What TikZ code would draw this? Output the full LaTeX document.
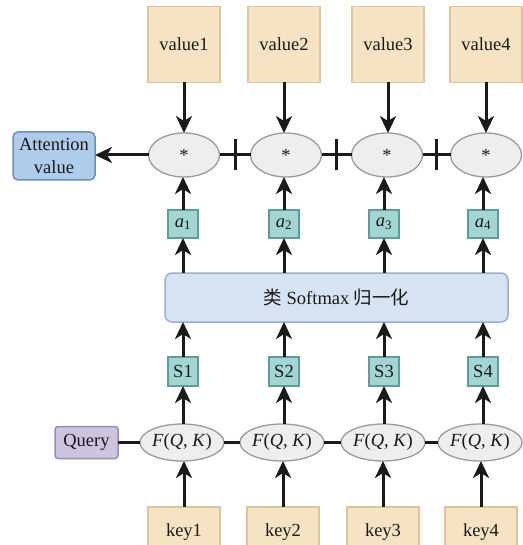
\documentclass[tikz,border=0pt]{standalone}
\usepackage{fontspec}
\setmainfont{Liberation Serif}
\newfontfamily\cjk{Noto Sans CJK SC}
\usetikzlibrary{arrows.meta,shapes.geometric}
\definecolor{beigeF}{HTML}{F6E3C3}
\definecolor{beigeD}{HTML}{DCC59C}
\definecolor{grayF}{HTML}{EEEEEE}
\definecolor{grayD}{HTML}{9A9A9A}
\definecolor{tealF}{HTML}{A3D5D3}
\definecolor{tealD}{HTML}{5F9C9A}
\definecolor{blueF}{HTML}{D7E2F3}
\definecolor{blueD}{HTML}{9DAFCF}
\definecolor{attF}{HTML}{AFCDEB}
\definecolor{attD}{HTML}{6F8FB3}
\definecolor{qF}{HTML}{CDC5E0}
\definecolor{qD}{HTML}{968DB5}
\definecolor{lineC}{HTML}{1A1A1A}
\newcommand{\fqk}{\textit{F}(\textit{Q}, \textit{K})}
\newcommand{\asub}[1]{\textit{a}\textsubscript{#1}}
\tikzset{
  every node/.style={font=\fontsize{18.5}{21}\selectfont, inner sep=0pt, outer sep=0pt, text=black!90},
  valbox/.style={draw=beigeD, fill=beigeF, line width=1.5pt, minimum width=72pt, minimum height=76pt},
  keybox/.style={draw=beigeD, fill=beigeF, line width=1.5pt, minimum width=72pt, minimum height=50pt},
  starell/.style={ellipse, draw=grayD, fill=grayF, line width=1.3pt, minimum width=71pt, minimum height=44pt},
  fell/.style={ellipse, draw=grayD, fill=grayF, line width=1.3pt, minimum width=70pt, minimum height=37pt},
  smallbox/.style={draw=tealD, fill=tealF, line width=1.3pt, minimum width=30pt, minimum height=28pt},
  conn/.style={draw=lineC, line width=3pt},
  arr/.style={conn, -{Stealth[length=17pt,width=16pt,inset=5pt]}},
}
\begin{document}
\begin{tikzpicture}[x=1pt,y=-1pt]
\useasboundingbox (0,0) rectangle (522,545);
% value boxes
\node[valbox] (v1) at (184,44.5) {value1};
\node[valbox] (v2) at (284,44.5) {value2};
\node[valbox] (v3) at (388,44.5) {value3};
\node[valbox] (v4) at (486,44.5) {value4};
% star ellipses
\node[starell] (m1) at (184,155) {*};
\node[starell] (m2) at (286,155) {*};
\node[starell] (m3) at (387,155) {*};
\node[starell] (m4) at (486,155) {*};
% attention value
\node[draw=attD, fill=attF, line width=1.5pt, rounded corners=5pt, minimum width=82pt, minimum height=48pt, align=center, font=\fontsize{18.5}{23}\selectfont] (att) at (54,156) {Attention\\value};
% a boxes
\node[smallbox] (a1) at (183,224) {\asub{1}};
\node[smallbox] (a2) at (284,224) {\asub{2}};
\node[smallbox] (a3) at (384,224) {\asub{3}};
\node[smallbox] (a4) at (483,224) {\asub{4}};
% softmax
\node[draw=blueD, fill=blueF, line width=1.5pt, rounded corners=7pt, minimum width=343pt, minimum height=49pt] (sm) at (336.5,297.5) {{\cjk 类} Softmax {\cjk 归一化}};
% S boxes
\node[smallbox, minimum height=29pt] (s1) at (183,371.5) {S1};
\node[smallbox, minimum height=29pt] (s2) at (284,371.5) {S2};
\node[smallbox, minimum height=29pt] (s3) at (384,371.5) {S3};
\node[smallbox, minimum height=29pt] (s4) at (483,371.5) {S4};
% F ellipses
\node[fell] (f1) at (182,442.5) {\fqk};
\node[fell] (f2) at (282,442.5) {\fqk};
\node[fell] (f3) at (383,442.5) {\fqk};
\node[fell] (f4) at (480,442.5) {\fqk};
% query
\node[draw=qD, fill=qF, line width=1.5pt, rounded corners=3pt, minimum width=63pt, minimum height=32pt] (q) at (86.5,442.5) {Query};
% keys
\node[keybox] (k1) at (184,532) {key1};
\node[keybox] (k2) at (283,532) {key2};
\node[keybox] (k3) at (383,532) {key3};
\node[keybox] (k4) at (481,532) {key4};
% connectors
\foreach \i in {1,2,3,4} {
  \draw[arr] (v\i.south) -- (v\i.south |- m\i.north);
  \draw[arr] (a\i.north) -- (a\i.north |- m\i.south);
  \draw[arr] (a\i.south |- sm.north) -- (a\i.south);
  \draw[arr] (s\i.north) -- (s\i.north |- sm.south);
  \draw[arr] (s\i.south |- f\i.north) -- (s\i.south);
  \draw[arr] (k\i.north) -- (k\i.north |- f\i.south);
}
\draw[arr] (m1.west) -- (m1.west -| att.east);
\foreach \i/\j in {1/2,2/3,3/4} {
  \draw[conn] (m\i.east) -- coordinate[pos=0.5] (t\i) (m\j.west);
  \draw[conn] ([yshift=-15.5pt]t\i) -- ([yshift=15.5pt]t\i);
  \draw[conn] (f\i.east) -- (f\j.west);
}
\draw[conn] (q.east) -- (f1.west);
\end{tikzpicture}
\end{document}
